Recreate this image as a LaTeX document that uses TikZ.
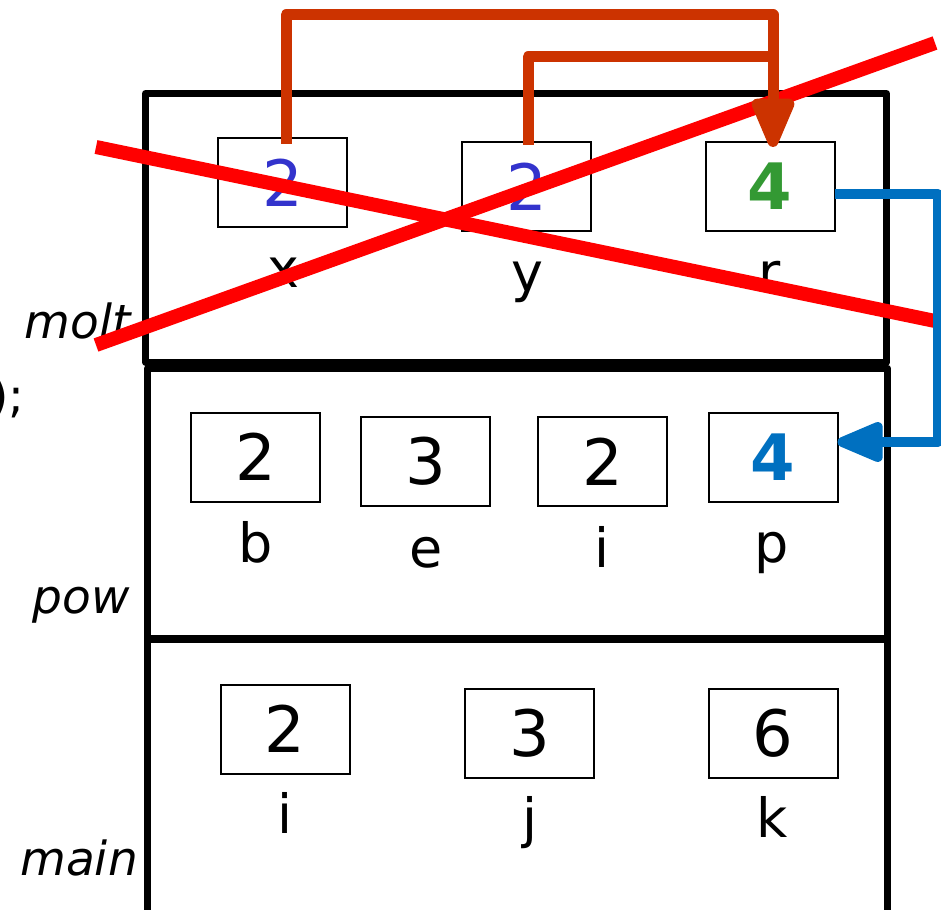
\documentclass[tikz,border=0pt]{standalone}
\usepackage{fontspec}
\setmainfont{DejaVu Sans}
\usetikzlibrary{arrows.meta}
\definecolor{numblue}{HTML}{3333CC}
\definecolor{numgreen}{HTML}{339933}
\definecolor{arrblue}{HTML}{0070C0}
\definecolor{arrred}{HTML}{CC3300}
\definecolor{xred}{HTML}{FF0000}
\begin{document}
\begin{tikzpicture}[x=1pt,y=-1pt,
  frame/.style={draw=black,line width=7pt,line join=round},
  cell/.style={draw=black,line width=2pt,minimum width=129pt,minimum height=89pt,inner sep=0pt,outer sep=0pt,font=\fontsize{64}{64}\selectfont},
  lbl/.style={anchor=base,inner sep=0pt,font=\fontsize{54}{54}\selectfont},
  side/.style={anchor=base east,inner sep=0pt,font=\fontsize{47}{47}\selectfont\itshape},
  cross/.style={draw=xred,line width=14pt},
  callarr/.style={draw=arrred,line width=11pt,line join=round},
  retarr/.style={draw=arrblue,line width=10pt,line join=round,-{Triangle[length=54pt,width=42pt,round]}}]
\useasboundingbox (0,0) rectangle (941,909);
% frames
\draw[frame] (145.5,93.5) rectangle (886.5,362);
\draw[frame] (147.5,368) rectangle (887.5,638);
\draw[frame] (147.5,639) rectangle (887.5,930);
% molt cells
\node[cell,text=numblue] (mx) at (282.5,182.5) {2};
\node[cell,text=numblue] (my) at (526.5,186.5) {2};
\node[cell,text=numgreen,font=\fontsize{64}{64}\selectfont\bfseries] (mr) at (770,186.5) {4};
\node[lbl] (lx) at (283,287) {x};
\node[lbl] (ly) at (527,291) {y};
\node[lbl] (lr) at (770,291) {r};
% pow cells
\node[cell] (pb) at (255.5,457) {2};
\node[cell] (pe) at (425.5,461.5) {3};
\node[cell] (pi) at (602.5,461.5) {2};
\node[cell,text=arrblue,font=\fontsize{64}{64}\selectfont\bfseries] (pp) at (773,457) {4};
\node[lbl] (lb) at (256,562) {b};
\node[lbl] (le) at (426,567) {e};
\node[lbl] (li) at (602,567) {i};
\node[lbl] (lp) at (772,562) {p};
% main cells
\node[cell] (ni) at (285,729) {2};
\node[cell] (nj) at (529.5,733) {3};
\node[cell] (nk) at (773,733) {6};
\node[lbl] (lni) at (285,833) {i};
\node[lbl] (lnj) at (530,837) {j};
\node[lbl] (lnk) at (772,837) {k};
% side labels
\node[side] (smolt) at (131,338) {molt};
\node[side] (spow) at (130,613) {pow};
\node[side] (smain) at (138,875) {main};
\node[anchor=base east,inner sep=0pt,font=\fontsize{47}{47}\selectfont] (code) at (25,412) {);};
% crossing lines
\coordinate (xa1) at (96,147);
\coordinate (xb1) at (935,321);
\coordinate (xa2) at (96,345);
\coordinate (xb2) at (935,43);
\draw[cross] (xa1) -- (xb1);
\draw[cross] (xa2) -- (xb2);
% red call arrows
\coordinate (top1) at (773,15);
\coordinate (top2) at (773,57);
\draw[callarr] ([xshift=1.5pt,yshift=-3pt]my.north) |- (top2);
\draw[callarr,-{Triangle[length=58pt,width=45pt,round]}] ([xshift=3.5pt,yshift=-6pt]mx.north) |- (top1) -- ([xshift=3pt,yshift=-5pt]mr.north);
% blue return arrow
\coordinate (bc) at (938,442);
\draw[retarr] ([yshift=-7.5pt]mr.east) -| (bc) -- ([yshift=15pt]pp.east);
\end{tikzpicture}
\end{document}
